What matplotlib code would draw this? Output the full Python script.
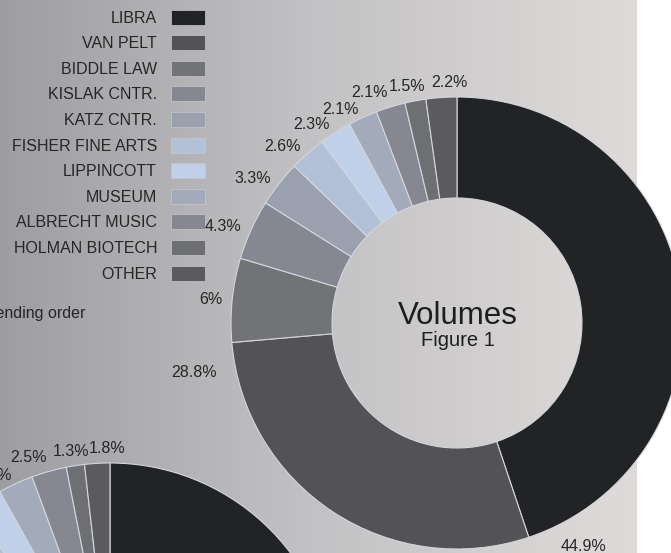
import numpy as np
import matplotlib.pyplot as plt
from matplotlib.colors import LinearSegmentedColormap
from matplotlib.patches import Rectangle

plt.rcParams['font.family'] = ['Liberation Sans', 'DejaVu Sans']

libraries = ["LIBRA", "VAN PELT", "BIDDLE LAW", "KISLAK CNTR.", "KATZ CNTR.",
             "FISHER FINE ARTS", "LIPPINCOTT", "MUSEUM", "ALBRECHT MUSIC",
             "HOLMAN BIOTECH", "OTHER"]
colors = ["#222324", "#535355", "#727377", "#858792", "#9aa0ae", "#b3c1d8",
          "#c1d0e9", "#a3abbb", "#878792", "#6e6f73", "#5b5b5e"]

# figure 1 (volumes), percent
volumes = [44.9, 28.8, 6, 4.3, 3.3, 2.6, 2.3, 2.1, 2.1, 1.5, 2.2]
# second chart, only the top-left corner shows up in the picture
second = [47.6, 27.1, 5.2, 3.9, 3.1, 2.6, 2.4, 2.5, 2.5, 1.3, 1.8]

W, H = 671, 553
R, R_IN = 226, 125
TXT = "#262626"
FS = 11.5

fig = plt.figure(figsize=(W / 100, H / 100), dpi=100, facecolor="white")
ax = fig.add_axes([0, 0, 1, 1])
ax.set_xlim(0, W)
ax.set_ylim(0, H)

# background: grey gradient, white strip on the right
bg = LinearSegmentedColormap.from_list("bg", ["#9e9ea2", "#c3c2c4", "#dfdbda"])
ax.imshow(np.linspace(0, 1, 256).reshape(1, -1), extent=(0, 637, 0, H),
          cmap=bg, aspect="auto", zorder=0, interpolation="bilinear")

renderer = fig.canvas.get_renderer()


def donut(values, cx, cy):
    # cx, cy in pixels from top-left
    cy = H - cy
    ax.pie(values, colors=colors, startangle=90, counterclock=False,
           center=(cx, cy), radius=R, frame=True,
           wedgeprops=dict(width=R - R_IN, edgecolor="#d3d6de", linewidth=0.8))
    ax.set_xlim(0, W)
    ax.set_ylim(0, H)
    ends = np.cumsum(values) / sum(values) * 360
    starts = ends - np.array(values) / sum(values) * 360
    for v, s, e in zip(values, starts, ends):
        if e - s > 25:
            a, rl = np.radians(e - 6.5), R * 1.085
        else:
            a, rl = np.radians((s + e) / 2), R * 1.045
        x = cx + rl * np.sin(a)
        y = cy + rl * np.cos(a)
        # labels near the top sit on the point, the others are centred on it
        dy = 0 if np.cos(a) > 0.95 else -5.5
        t = ax.text(x, y + dy, f"{v:g}%", ha="left", va="baseline",
                    fontsize=FS, color=TXT, zorder=5)
        # slide the label left by a share of its width on the left side
        f = float(np.clip(-3.7 * np.sin(a), 0, 1))
        w = t.get_window_extent(renderer).width
        t.set_x(x - f * w)


donut(volumes, 457, 323)
donut(second, 110, 689)

ax.text(458, H - 324, "Volumes", ha="center", va="baseline", fontsize=22.5,
        color="#1e1e1e")
ax.text(458, H - 346, "Figure 1", ha="center", va="baseline", fontsize=14.5,
        color="#1e1e1e")

ax.text(85, H - 318, "Sorted in descending order", ha="right", va="baseline",
        fontsize=FS, color=TXT)

# legend
for i, (name, c) in enumerate(zip(libraries, colors)):
    yc = 17 + i * 25.6
    ax.add_patch(Rectangle((171, H - yc - 7.5), 34, 15, facecolor=c,
                           edgecolor="#c9c9cd", linewidth=0.5, zorder=4))
    ax.text(157, H - yc - 5.6, name, ha="right", va="baseline", fontsize=FS,
            color=TXT)

ax.set_xlim(0, W)
ax.set_ylim(0, H)
ax.set_aspect("auto")
ax.axis("off")

fig.savefig("out.png", dpi=100, facecolor="white")
